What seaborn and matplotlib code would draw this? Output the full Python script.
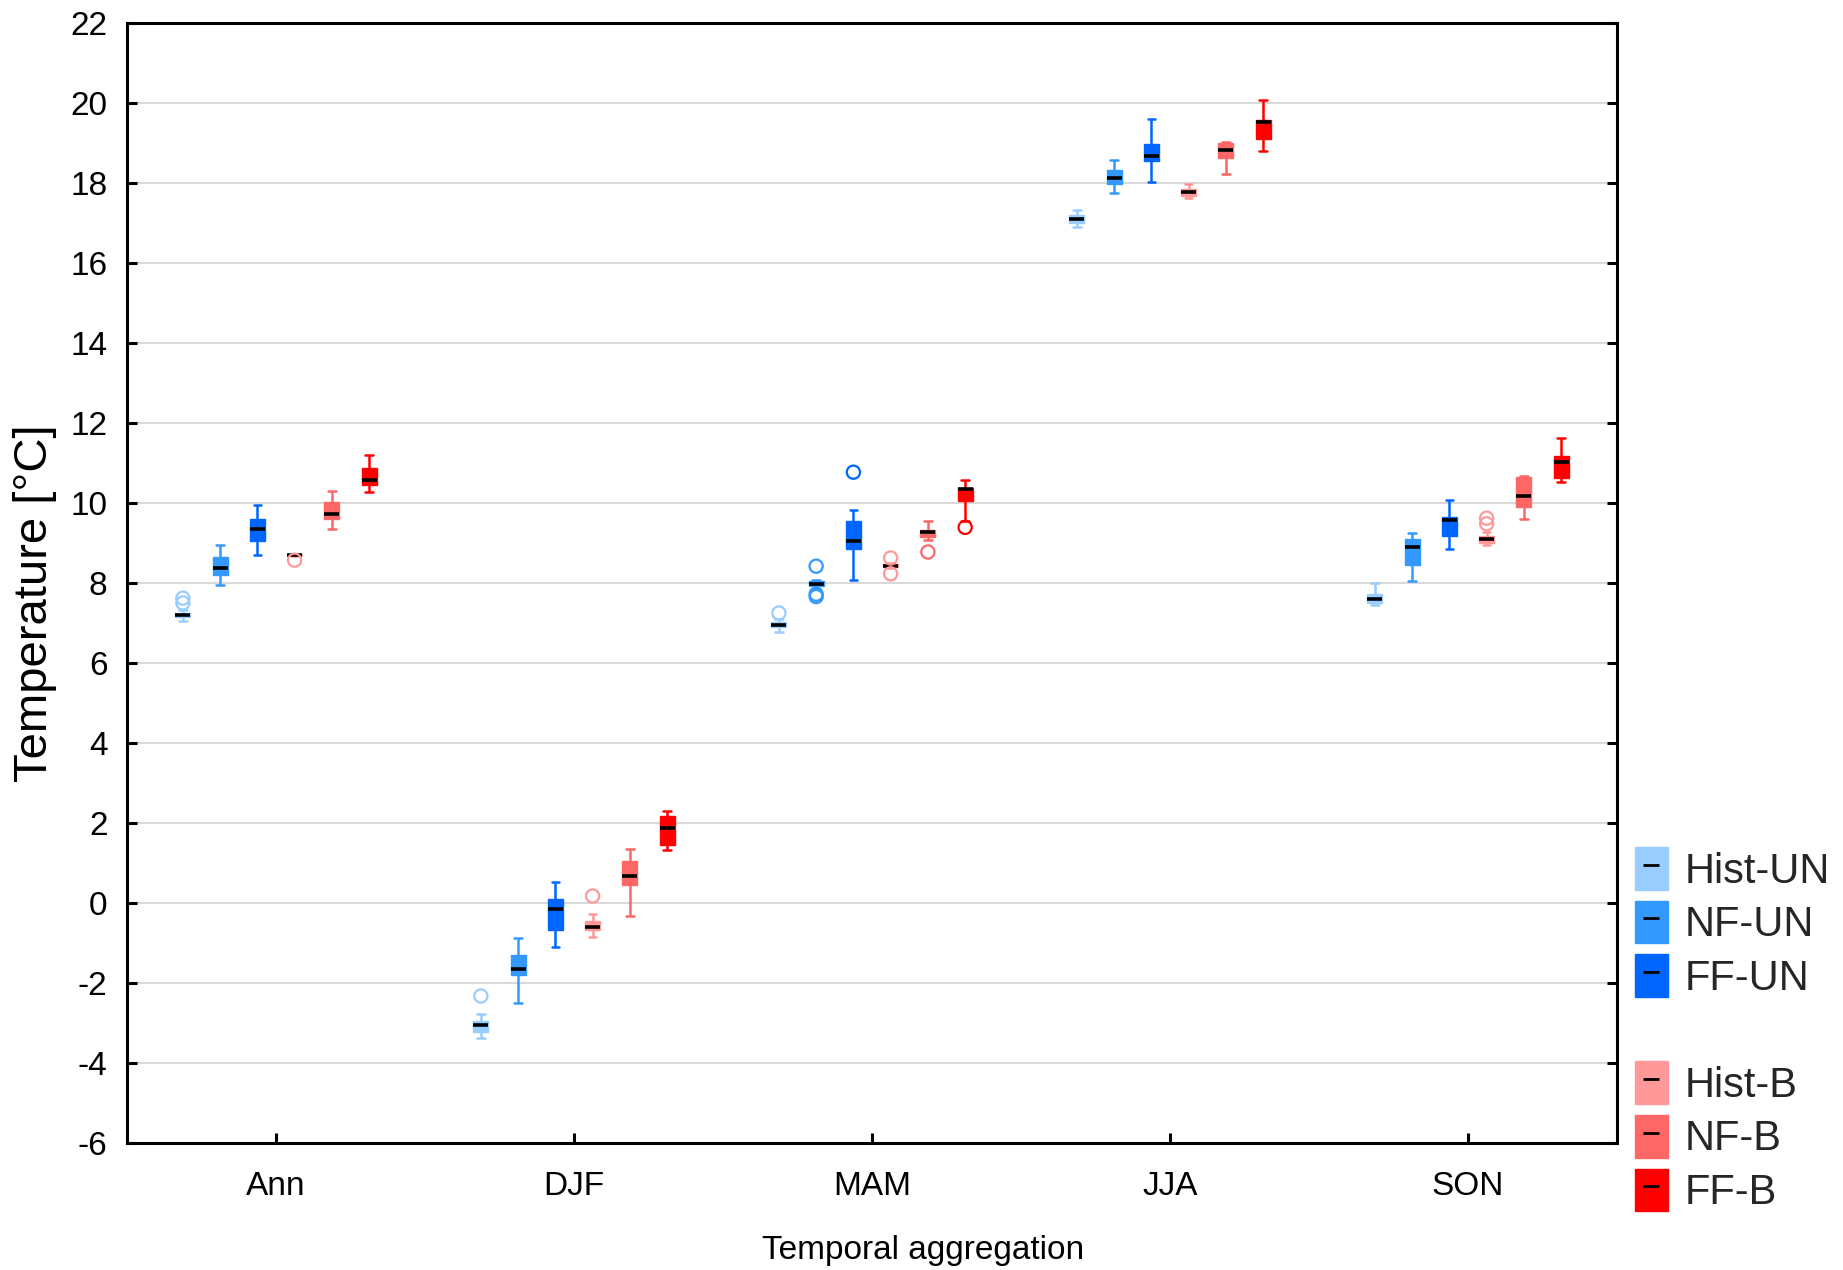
import numpy as np
import pandas as pd
import matplotlib
matplotlib.use("Agg")
import matplotlib.pyplot as plt
import seaborn as sns
from matplotlib.patches import Patch
from matplotlib.lines import Line2D
from matplotlib.legend_handler import HandlerTuple

SEASONS = ["Ann", "DJF", "MAM", "JJA", "SON"]
SERIES = ["Hist-UN", "NF-UN", "FF-UN", "Hist-B", "NF-B", "FF-B"]
COLORS = ["#99ccff", "#3399ff", "#0066ff", "#ff9999", "#ff6666", "#ff0000"]

# Per season: [lower whisker, Q1, median, Q3, upper whisker]
HIST_UN = [[7.06, 7.14, 7.21, 7.24, 7.32],
           [-3.37, -3.22, -3.05, -2.95, -2.77],
           [6.77, 6.89, 6.94, 7.02, 7.10],
           [16.91, 17.01, 17.09, 17.19, 17.32],
           [7.45, 7.49, 7.60, 7.73, 8.00]]
NF_UN = [[7.96, 8.21, 8.375, 8.65, 8.96],
         [-2.50, -1.80, -1.65, -1.30, -0.875],
         [7.86, 7.93, 7.97, 8.05, 8.08],
         [17.76, 17.98, 18.12, 18.33, 18.57],
         [8.05, 8.44, 8.89, 9.11, 9.24]]
FF_UN = [[8.70, 9.04, 9.36, 9.60, 9.94],
         [-1.09, -0.675, -0.14, 0.09, 0.53],
         [8.08, 8.85, 9.05, 9.56, 9.83],
         [18.03, 18.55, 18.67, 18.98, 19.59],
         [8.84, 9.17, 9.58, 9.65, 10.08]]
HIST_B = [[8.68, 8.69, 8.71, 8.72, 8.73],
          [-0.86, -0.675, -0.60, -0.45, -0.27],
          [8.38, 8.40, 8.43, 8.47, 8.49],
          [17.63, 17.68, 17.775, 17.86, 17.97],
          [8.96, 8.99, 9.11, 9.17, 9.28]]
NF_B = [[9.35, 9.60, 9.725, 10.03, 10.31],
        [-0.325, 0.45, 0.68, 1.06, 1.36],
        [9.08, 9.15, 9.27, 9.32, 9.54],
        [18.23, 18.63, 18.82, 19.01, 19.03],
        [9.61, 9.89, 10.17, 10.65, 10.68]]
FF_B = [[10.275, 10.44, 10.575, 10.875, 11.21],
        [1.325, 1.45, 1.88, 2.17, 2.29],
        [9.55, 10.06, 10.35, 10.375, 10.58],
        [18.81, 19.11, 19.52, 19.575, 20.07],
        [10.525, 10.625, 11.02, 11.17, 11.625]]

# Outlying values per season
OUT_HIST_UN = [[7.62, 7.50], [-2.325], [7.25], [], []]
OUT_NF_UN = [[], [], [8.42, 7.72, 7.66], [], []]
OUT_FF_UN = [[], [], [10.77], [], []]
OUT_HIST_B = [[8.57], [0.175], [8.625, 8.23], [], [9.62, 9.48]]
OUT_NF_B = [[], [], [8.775], [], []]
OUT_FF_B = [[], [], [9.39], [], []]

summaries = dict(zip(SERIES, [HIST_UN, NF_UN, FF_UN, HIST_B, NF_B, FF_B]))
outliers = dict(zip(SERIES, [OUT_HIST_UN, OUT_NF_UN, OUT_FF_UN,
                             OUT_HIST_B, OUT_NF_B, OUT_FF_B]))
palette = dict(zip(SERIES, COLORS))

box_df = pd.DataFrame(
    [(season, s, v) for s in SERIES
     for season, five in zip(SEASONS, summaries[s]) for v in five],
    columns=["season", "series", "temp"])
out_df = pd.DataFrame(
    [(season, s, v) for s in SERIES
     for season, vals in zip(SEASONS, outliers[s]) for v in vals],
    columns=["season", "series", "temp"])

sns.set_theme(style="white")
plt.rcParams["font.family"] = ["Liberation Sans", "DejaVu Sans"]
plt.rcParams["axes.unicode_minus"] = False

fig = plt.figure(figsize=(18.43, 12.70), dpi=100)
ax = fig.add_axes([0.0689, 0.1, 0.8085, 0.8819])

BOX_WIDTH = 0.75
for s, c in zip(SERIES, COLORS):
    sns.boxplot(data=box_df[box_df["series"] == s], x="season", y="temp",
                hue="series", order=SEASONS, hue_order=SERIES, palette=palette,
                saturation=1, dodge=True, width=BOX_WIDTH, gap=0.6,
                whis=(0, 100), showfliers=False, linecolor=c, linewidth=1.8,
                medianprops=dict(color="black", linewidth=2.6),
                boxprops=dict(linewidth=1.0), legend=False, ax=ax)

n_coll = len(ax.collections)
sns.stripplot(data=out_df, x="season", y="temp", hue="series", order=SEASONS,
              hue_order=SERIES, palette=palette, dodge=True, jitter=False,
              size=9.5, linewidth=1.6, legend=False, ax=ax, zorder=5)
# hollow markers, dodged on the same grid as the boxes
for coll in ax.collections[n_coll:]:
    fc = coll.get_facecolors()
    coll.set_edgecolors(fc)
    coll.set_facecolors("none")
    off = np.array(coll.get_offsets())
    if len(off):
        centers = np.round(off[:, 0])
        off[:, 0] = centers + (off[:, 0] - centers) * BOX_WIDTH / 0.8
        coll.set_offsets(off)

ax.set_xlim(-0.5, 4.5)
ax.set_ylim(-6, 22)
ax.set_yticks(np.arange(-6, 23, 2))
ax.yaxis.grid(True, color="#d9d9d9", linewidth=1.5)
ax.xaxis.grid(False)
ax.set_axisbelow(True)
for sp in ax.spines.values():
    sp.set_visible(True)
    sp.set_color("black")
    sp.set_linewidth(2.2)

ax.tick_params(axis="y", direction="in", length=7, width=2.2, left=True,
               right=True, labelsize=24, pad=14, colors="black")
ax.tick_params(axis="x", direction="in", length=7, width=2.2, bottom=True,
               top=False, labelsize=24, pad=20, colors="black")
ax.set_xlabel("Temporal aggregation", fontsize=24, color="black")
ax.set_ylabel("Temperature [°C]", fontsize=34, color="black")
ax.xaxis.set_label_coords(0.534, -0.082)
ax.yaxis.set_label_coords(-0.047, 0.482)

handles, labels = [], []
for i, (s, c) in enumerate(zip(SERIES, COLORS)):
    if i == 3:
        handles.append(Patch(facecolor="none", edgecolor="none"))
        labels.append("")
    handles.append((Patch(facecolor=c, edgecolor=c),
                    Line2D([], [], color="black", marker="_", linestyle="none",
                           markersize=11, markeredgewidth=2)))
    labels.append(s)
fig.legend(handles, labels, loc="upper left", bbox_to_anchor=(0.887, 0.333),
           frameon=False, fontsize=30, handlelength=0.8, handleheight=1.2,
           handletextpad=0.4, labelspacing=0.22, borderpad=0, borderaxespad=0,
           handler_map={tuple: HandlerTuple(ndivide=1)})

fig.savefig("out.png", dpi=100)
